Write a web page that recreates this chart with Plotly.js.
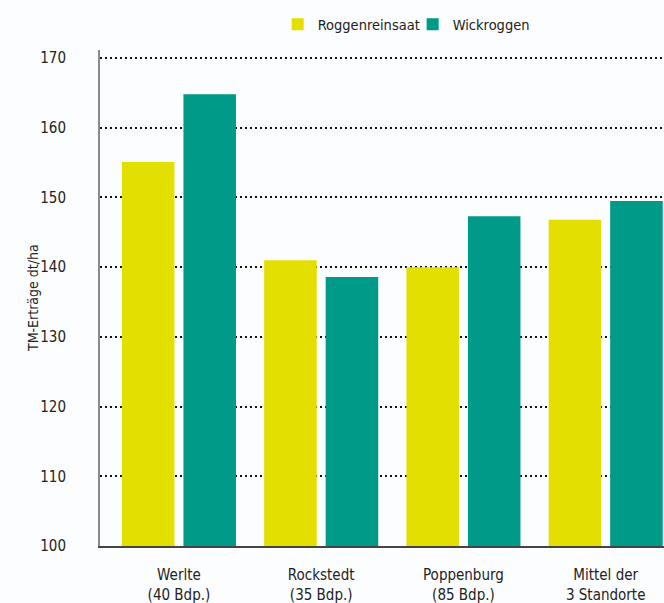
<!DOCTYPE html>
<html>
<head>
<meta charset="utf-8">
<script src="https://cdn.plot.ly/plotly-3.0.1.min.js"></script>
<style>html,body{margin:0;padding:0;background:#fcfdff;}</style>
</head>
<body>
<div id="chart" style="width:664px;height:603px;"></div>
<script>
const categories = ["Werlte<br>(40 Bdp.)", "Rockstedt<br>(35 Bdp.)", "Poppenburg<br>(85 Bdp.)", "Mittel der<br>3 Standorte"];
const roggenreinsaat = [155.1, 141.0, 140.0, 146.8];
const wickroggen = [164.8, 138.6, 147.3, 149.5];
const yTicks = [100, 110, 120, 130, 140, 150, 160, 170];
const yTitle = 'TM-Erträge dt/ha';

const FONT = '"DejaVu Sans Condensed", "Liberation Sans", sans-serif';

const traces = [
  {type: 'bar', name: 'Roggenreinsaat', x: categories, y: roggenreinsaat,
   marker: {color: '#e3df00', line: {width: 0}}},
  {type: 'bar', name: 'Wickroggen', x: categories, y: wickroggen,
   marker: {color: '#009a88', line: {width: 0}}}
];

const layout = {
  width: 664, height: 603,
  paper_bgcolor: '#fcfdff', plot_bgcolor: '#fcfdff',
  margin: {l: 100, r: 0, t: 50, b: 57, pad: 0},
  font: {family: FONT, color: '#222', size: 15},
  barmode: 'group', bargap: 0.135, bargroupgap: 0.146,
  showlegend: true,
  legend: {orientation: 'h', x: 0.315, xanchor: 'left', y: 1.052, yanchor: 'middle',
           font: {family: FONT, size: 14.5, color: '#222'}, bgcolor: 'rgba(0,0,0,0)',
           traceorder: 'normal', itemclick: false, entrywidth: 90, entrywidthmode: 'pixels'},
  xaxis: {type: 'category', range: [-0.555, 3.41], showgrid: false, zeroline: false,
          showline: true, linecolor: '#444', linewidth: 2, ticks: '',
          tickfont: {family: FONT, size: 15, color: '#222'}, ticklabelstandoff: 14},
  yaxis: {range: [100, 171.15], tickvals: yTicks, ticktext: yTicks.map(String),
          showgrid: true, gridcolor: '#111', gridwidth: 2, griddash: '2px,3px',
          zeroline: false, showline: true, linecolor: '#8a8a8a', linewidth: 2, ticks: '',
          tickfont: {family: FONT, size: 15, color: '#222'}, ticklabelstandoff: 29},
  annotations: [{text: yTitle, xref: 'paper', yref: 'paper', x: -0.1188, y: 0.5,
                 xanchor: 'center', yanchor: 'middle', textangle: -90, showarrow: false,
                 font: {family: FONT, size: 14, color: '#222'}}]
};

Plotly.newPlot('chart', traces, layout, {displayModeBar: false, staticPlot: true});
</script>
</body>
</html>
